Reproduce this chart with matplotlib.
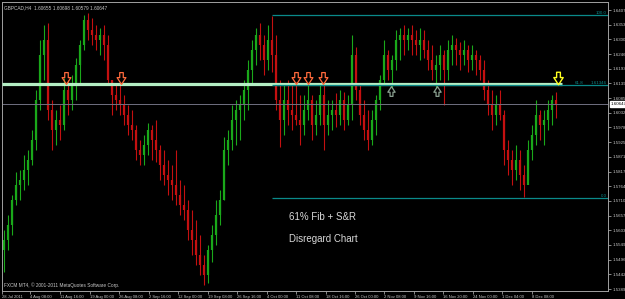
import numpy as np
import matplotlib
matplotlib.use('Agg')
import matplotlib.pyplot as plt
from matplotlib.path import Path
import matplotlib.transforms as mtransforms

# GBPCAD H4 candles, one candle for every few bars of the screenshot
first_open = 1.5530
highs = [1.5605, 1.5659, 1.5732, 1.5816, 1.5824, 1.5878, 1.5897, 1.5970, 1.6116, 1.6298,
         1.6353, 1.6360, 1.6079, 1.6043, 1.6061, 1.6159, 1.6152, 1.6170, 1.6232, 1.6298,
         1.6389, 1.6397, 1.6378, 1.6353, 1.6342, 1.6353, 1.6316, 1.6152, 1.6134, 1.6145,
         1.6097, 1.6061, 1.6043, 1.5988, 1.5933, 1.5951, 1.5995, 1.5988, 1.6006, 1.5915,
         1.5897, 1.5860, 1.5842, 1.5897, 1.5787, 1.5769, 1.5714, 1.5678, 1.5641, 1.5586,
         1.5513, 1.5550, 1.5623, 1.5714, 1.5751, 1.5944, 1.5970, 1.6061, 1.6079, 1.6097,
         1.6152, 1.6225, 1.6298, 1.6342, 1.6360, 1.6316, 1.6353, 1.6386, 1.6316, 1.6152,
         1.6134, 1.6152, 1.6134, 1.6145, 1.6097, 1.6097, 1.6141, 1.6097, 1.6079, 1.6134,
         1.6141, 1.6079, 1.6079, 1.6105, 1.6116, 1.6108, 1.6097, 1.6316, 1.6272, 1.6134,
         1.6079, 1.6043, 1.6043, 1.6097, 1.6170, 1.6298, 1.6262, 1.6243, 1.6335, 1.6342,
         1.6353, 1.6342, 1.6353, 1.6335, 1.6342, 1.6335, 1.6298, 1.6280, 1.6243, 1.6280,
         1.6262, 1.6298, 1.6316, 1.6305, 1.6291, 1.6298, 1.6280, 1.6280, 1.6262, 1.6243,
         1.6225, 1.6152, 1.6116, 1.6097, 1.6116, 1.6043, 1.5933, 1.5897, 1.5915, 1.5897,
         1.5842, 1.5933, 1.5988, 1.6079, 1.6043, 1.6043, 1.6079, 1.6097, 1.6108]
lows = [1.5451, 1.5532, 1.5586, 1.5696, 1.5714, 1.5751, 1.5769, 1.5842, 1.5897, 1.6043,
        1.6152, 1.6006, 1.5897, 1.5915, 1.5933, 1.5970, 1.6024, 1.6043, 1.6079, 1.6134,
        1.6262, 1.6298, 1.6280, 1.6262, 1.6243, 1.6225, 1.6134, 1.6024, 1.6043, 1.6024,
        1.5988, 1.5951, 1.5933, 1.5860, 1.5842, 1.5842, 1.5878, 1.5860, 1.5853, 1.5787,
        1.5769, 1.5732, 1.5714, 1.5696, 1.5659, 1.5641, 1.5568, 1.5513, 1.5477, 1.5440,
        1.5404, 1.5411, 1.5488, 1.5550, 1.5623, 1.5714, 1.5842, 1.5897, 1.5915, 1.5933,
        1.6006, 1.6043, 1.6134, 1.6207, 1.6225, 1.6170, 1.6189, 1.6181, 1.6043, 1.5907,
        1.5951, 1.5988, 1.5970, 1.5988, 1.5915, 1.5951, 1.6006, 1.5933, 1.5951, 1.5988,
        1.5897, 1.5951, 1.5970, 1.5980, 1.5988, 1.5970, 1.5988, 1.6006, 1.6079, 1.5988,
        1.5933, 1.5897, 1.5915, 1.5951, 1.6043, 1.6134, 1.6152, 1.6123, 1.6189, 1.6225,
        1.6243, 1.6262, 1.6243, 1.6243, 1.6225, 1.6232, 1.6189, 1.6152, 1.6123, 1.6152,
        1.6061, 1.6152, 1.6207, 1.6207, 1.6189, 1.6207, 1.6181, 1.6189, 1.6170, 1.6152,
        1.6079, 1.6024, 1.5970, 1.5988, 1.6006, 1.5842, 1.5805, 1.5769, 1.5787, 1.5751,
        1.5725, 1.5787, 1.5860, 1.5915, 1.5933, 1.5915, 1.5970, 1.5988, 1.6013]
closes = [1.5568, 1.5623, 1.5714, 1.5769, 1.5787, 1.5824, 1.5860, 1.5933, 1.6079, 1.6243,
          1.6298, 1.6043, 1.5970, 1.6006, 1.5988, 1.6116, 1.6079, 1.6134, 1.6207, 1.6280,
          1.6371, 1.6335, 1.6316, 1.6298, 1.6316, 1.6280, 1.6152, 1.6097, 1.6079, 1.6061,
          1.6024, 1.5988, 1.5970, 1.5897, 1.5878, 1.5915, 1.5970, 1.5933, 1.5897, 1.5842,
          1.5805, 1.5787, 1.5769, 1.5732, 1.5696, 1.5678, 1.5605, 1.5568, 1.5513, 1.5477,
          1.5440, 1.5532, 1.5586, 1.5659, 1.5714, 1.5897, 1.5933, 1.6006, 1.6043, 1.6061,
          1.6116, 1.6189, 1.6262, 1.6316, 1.6280, 1.6225, 1.6298, 1.6243, 1.6079, 1.6006,
          1.6079, 1.6043, 1.6024, 1.6006, 1.5988, 1.6043, 1.6079, 1.5988, 1.6024, 1.6097,
          1.5988, 1.6024, 1.6043, 1.6024, 1.6079, 1.6006, 1.6061, 1.6243, 1.6116, 1.6024,
          1.5970, 1.5933, 1.6006, 1.6079, 1.6152, 1.6243, 1.6189, 1.6225, 1.6298, 1.6316,
          1.6298, 1.6316, 1.6298, 1.6280, 1.6298, 1.6262, 1.6225, 1.6189, 1.6207, 1.6243,
          1.6189, 1.6262, 1.6280, 1.6262, 1.6243, 1.6262, 1.6225, 1.6243, 1.6225, 1.6189,
          1.6116, 1.6061, 1.6024, 1.6061, 1.6024, 1.5897, 1.5860, 1.5824, 1.5860, 1.5805,
          1.5769, 1.5897, 1.5951, 1.6024, 1.5988, 1.6006, 1.6043, 1.6079, 1.60647]

sr_level = 1.6137
sr_end = 139.5
fib_high = 1.63895
fib_low = 1.57215
fib_start = 67
bid = 1.60647

down_arrows = [15.5, 29.25, 73, 76, 79.75]
up_arrows = [96.75, 108.25]
last_arrow = 138.5
arrow_down_price = 1.6159
arrow_up_price = 1.6112

time_labels = ['28 Jul 2011', '4 Aug 08:00', '11 Aug 16:00', '19 Aug 00:00', '26 Aug 08:00',
               '2 Sep 16:00', '12 Sep 00:00', '19 Sep 08:00', '26 Sep 16:00', '4 Oct 00:00',
               '11 Oct 08:00', '18 Oct 16:00', '26 Oct 00:00', '2 Nov 08:00', '9 Nov 16:00',
               '16 Nov 20:00', '24 Nov 00:00', '1 Dec 04:00', '8 Dec 08:00']
time_pos = [-0.5, 6.5, 14, 21.5, 28.75, 36.25, 43.5, 51, 58.25, 65.75,
            73, 80.4, 87.75, 95, 102.5, 109.75, 117.25, 124.5, 132]
price_labels = ['1.64075', '1.63539', '1.63003', '1.62467', '1.61931', '1.61395', '1.60859',
                '1.60323', '1.59787', '1.59251', '1.58715', '1.58179', '1.57643', '1.57107',
                '1.56571', '1.56035', '1.55499', '1.54963', '1.54427', '1.53891']

green = '#1aa81a'
red = '#c41010'
teal = '#0a8a8a'
grid_col = '#a0a0a0'
txt_col = '#c8c8c8'

fig = plt.figure(figsize=(6.25, 2.99), dpi=100, facecolor='black')
ax = fig.add_axes([2/625, 8/299, 606/625, 289/299])
ax.set_facecolor('black')

closes = np.array(closes)
opens = np.r_[first_open, closes[:-1]]
idx = np.arange(len(closes))
cols = np.where(closes >= opens, green, red)
ax.vlines(idx, lows, highs, colors=cols, lw=0.8)
ax.vlines(idx, np.minimum(opens, closes), np.maximum(opens, closes), colors=cols, lw=1.6)

xmax = 151
# support / resistance line
ax.hlines(sr_level, -0.5, sr_end, color='#b4eec4', lw=2.3, zorder=3)
# bid line
ax.axhline(bid, color='#707080', lw=0.7, zorder=2)
# fib
fib_618 = fib_low + 0.618 * (fib_high - fib_low)
ax.hlines([fib_high, fib_618, fib_low], fib_start, xmax, color=teal, lw=0.9, zorder=4)
fsmall = dict(fontsize=3.2, color=teal, family='Liberation Sans')
ax.text(xmax - 0.3, fib_high, '100.0', ha='right', va='bottom', **fsmall)
ax.text(142.8, fib_618, '61.8', ha='left', va='bottom', **fsmall)
ax.text(xmax - 0.3, fib_618, '1.61346', ha='right', va='bottom', **fsmall)
ax.text(xmax - 0.3, fib_low, '0.0', ha='right', va='bottom', **fsmall)

# arrows
down_path = Path([(-0.3, 1), (0.3, 1), (0.3, 0.15), (0.75, 0.15), (0, -1),
                  (-0.75, 0.15), (-0.3, 0.15), (-0.3, 1)], closed=True)
up_path = Path([(x, -y) for x, y in down_path.vertices], closed=True)
ax.plot(down_arrows, [arrow_down_price] * len(down_arrows), ls='none', marker=down_path,
        ms=8.5, mfc='none', mec='#ff6a3c', mew=0.9, zorder=5)
ax.plot(up_arrows, [arrow_up_price] * len(up_arrows), ls='none', marker=up_path,
        ms=7, mfc='none', mec='#8aa090', mew=0.9, zorder=5)
ax.plot([last_arrow], [arrow_down_price], ls='none', marker=down_path,
        ms=9, mfc='none', mec='#ffff20', mew=1.0, zorder=5)

ax.set_xlim(-0.5, xmax)
ax.set_ylim(1.53819, 1.64367)

ax.yaxis.tick_right()
ax.set_yticks([float(p) for p in price_labels])
ax.set_yticklabels(price_labels, fontsize=3.2, color=txt_col, family='Liberation Sans')
ax.set_xticks(time_pos)
ax.set_xticklabels(time_labels, fontsize=3.0, color=txt_col, family='Liberation Sans')
for lab in ax.get_xticklabels():
    lab.set_ha('left')
ax.tick_params(axis='both', colors=grid_col, length=2, width=0.6, pad=1)
ax.tick_params(axis='y', labelcolor=txt_col)
ax.tick_params(axis='x', labelcolor=txt_col)
for s in ax.spines.values():
    s.set_color(grid_col)
    s.set_linewidth(0.7)

# bid price label
tr = mtransforms.blended_transform_factory(ax.transAxes, ax.transData)
ax.text(1.004, bid, '1.60647', transform=tr, fontsize=3.2, color='black', va='center',
        family='Liberation Sans',
        bbox=dict(boxstyle='square,pad=0.15', fc='white', ec='white'))

ax.text(0.004, 0.99, 'GBPCAD,H4  1.60655 1.60698 1.60579 1.60647', transform=ax.transAxes,
        va='top', ha='left', fontsize=3.4, color=txt_col, family='Liberation Sans')
ax.text(0.003, 0.02, 'FXCM MT4, \u00a9 2001-2011 MetaQuotes Software Corp.', transform=ax.transAxes,
        va='center', ha='left', fontsize=3.4, color=txt_col, family='Liberation Sans')

ax.text(0.4736, 0.256, '61% Fib + S&R', transform=ax.transAxes, va='center', ha='left',
        fontsize=7, color='#d8d8d8', family='Liberation Sans')
ax.text(0.4736, 0.180, 'Disregard Chart', transform=ax.transAxes, va='center', ha='left',
        fontsize=7, color='#d8d8d8', family='Liberation Sans')

fig.savefig('out.png', dpi=100, facecolor='black')
